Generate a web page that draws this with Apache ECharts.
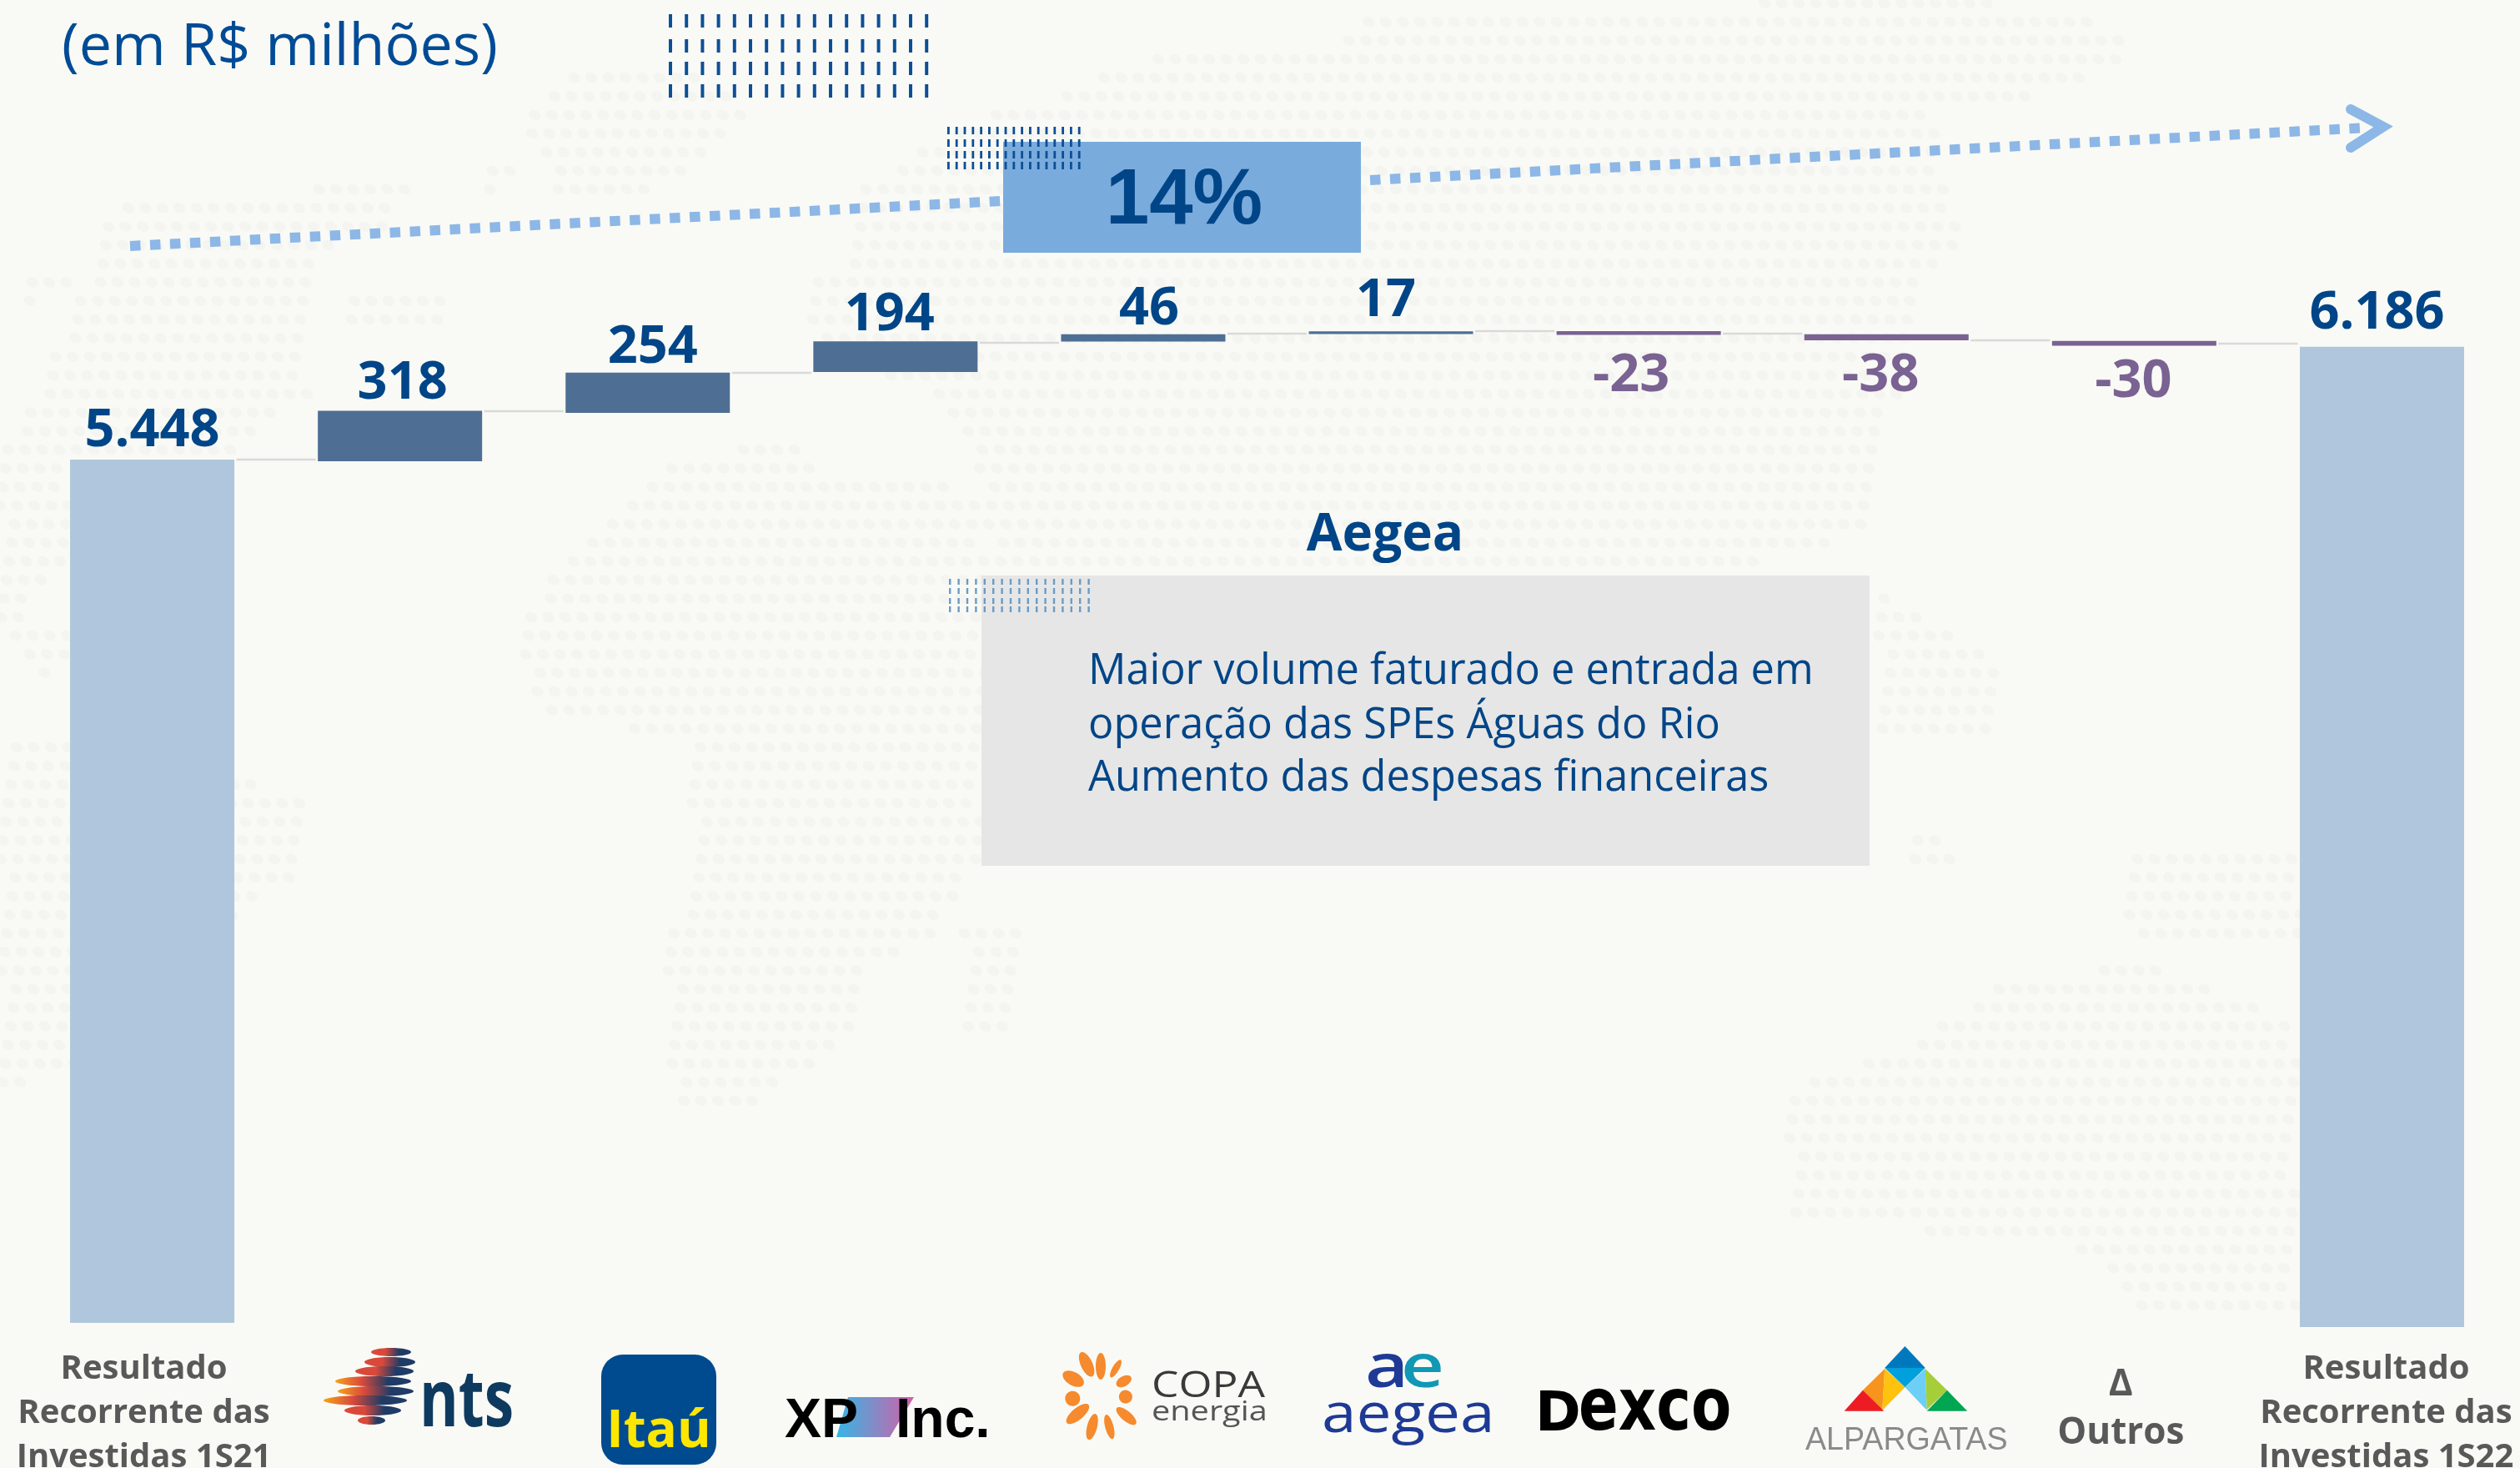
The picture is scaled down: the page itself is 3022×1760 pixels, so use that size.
<!DOCTYPE html>
<html>
<head>
<meta charset="utf-8">
<title>Resultado Recorrente das Investidas</title>
<script src="https://cdn.jsdelivr.net/npm/echarts@6/dist/echarts.min.js"></script>
<style>
    html, body { margin: 0; padding: 0; background: #f9faf5; }
    #chart { width: 3022px; height: 1760px; }
</style>
</head>
<body>
<div id="chart"></div>
<script>
var categories = [
    'Resultado\nRecorrente das\nInvestidas 1S21', 'NTS', 'Itaú', 'XP Inc.', 'Copa Energia',
    'Aegea', 'Dexco', 'Alpargatas', 'Δ\nOutros', 'Resultado\nRecorrente das\nInvestidas 1S22'
];
var values = [5448, 318, 254, 194, 46, 17, -23, -38, -30, 6186];
// where each floating bar starts
var barBase = [26, 5463, 5768, 6026, 6218, 6266, 6261, 6226, 6192, 0];
// level of the thin connector between one bar and the next
var connectorLevels = [5474, 5779, 6021, 6211, 6268, 6284, 6268, 6226, 6205];

var BLUE = '#004587', PURPLE = '#7a6292', GREY = '#595959', SANS = '"Open Sans"';

function fmt(v) {
    return String(v).replace(/\B(?=(\d{3})+$)/g, '.');
}

function barColor(i) {
    if (i === 0 || i === values.length - 1) return '#b0c6dd';
    return values[i] < 0 ? PURPLE : '#4f6e94';
}

// label nudges so the numbers sit where they do in the slide
var labelOffset = [[0, 4], [3, 5], [6, 8], [-7, 6], [7, 8], [-6, 1], [-9, 12], [-7, 5], [-1, 6], [-6, -2]];

function txt(s, x, base, size, weight, fill, family, align, sx) {
    return {
        type: 'text', x: x, y: base - 0.28 * size, z: 3, silent: true, scaleX: sx || 1,
        style: {
            text: s, fill: fill, fontFamily: family || SANS, fontSize: size, fontWeight: weight,
            align: align || 'left', verticalAlign: 'middle'
        }
    };
}

function poly(pts, fill, z) {
    return { type: 'polygon', z: z || 3, silent: true, shape: { points: pts }, style: { fill: fill } };
}

function gradH(a, b) {
    return { type: 'linear', x: 0, y: 0, x2: 1, y2: 0, colorStops: [{ offset: 0, color: a }, { offset: 1, color: b }] };
}

// faint dotted world map behind everything
var mapShapes = [
    [[135,246],[501,217],[453,279],[371,308],[371,472],[289,540],[87,540],[19,520],[67,424],[106,328]],
    [[20,345],[80,320],[80,350],[20,370]],
    [[405,357],[549,347],[540,395],[400,395]],
    [[569,183],[617,202],[593,236],[578,236]],
    [[0,520],[85,520],[85,655],[29,742],[0,742]],
    [[10,740],[85,740],[85,800],[40,820]],
    [[0,896],[87,887],[366,954],[357,1050],[289,1089],[87,1291],[0,1301]],
    [[626,145],[675,87],[809,77],[906,125],[848,183],[800,222],[694,250],[665,231]],
    [[800,559],[954,520],[993,569],[1176,588],[1185,694],[1176,1041],[1147,1060],[1127,1127],[1041,1156],[1021,1234],[983,1272],[925,1311],[896,1330],[809,1320],[800,1253],[800,1118],[819,1089],[838,1041],[819,935],[838,896],[636,848],[626,752],[675,675],[771,578]],
    [[964,347],[1021,308],[1021,231],[1156,145],[1253,125],[1378,67],[1569,67],[1655,11],[2378,0],[2503,22],[2561,45],[2542,79],[2475,112],[2311,129],[2349,264],[2349,297],[2292,359],[2292,426],[2243,561],[2253,640],[2108,673],[1839,685],[1185,685],[1185,588],[1127,482],[964,400]],
    [[2142,1302],[2282,1257],[2407,1178],[2571,1156],[2754,1223],[2754,1571],[2571,1571],[2484,1493],[2234,1470],[2147,1459]],
    [[2552,1010],[2760,1010],[2760,1122],[2552,1122]],
    [[2282,988],[2340,988],[2340,1044],[2282,1044]],
    [[2253,707],[2400,790],[2400,875],[2253,875]],
    [[1156,1108],[1240,1108],[1200,1240],[1146,1240]]
];

function inside(p, shape) {
    var hit = false;
    for (var i = 0, j = shape.length - 1; i < shape.length; j = i++) {
        if ((shape[i][1] > p[1]) !== (shape[j][1] > p[1]) &&
            p[0] < (shape[j][0] - shape[i][0]) * (p[1] - shape[i][1]) / (shape[j][1] - shape[i][1]) + shape[i][0]) {
            hit = !hit;
        }
    }
    return hit;
}

function mapDots() {
    var dots = [];
    for (var r = 0; r < 72; r++) {
        for (var c = -15; c < 150; c++) {
            var p = [c * 20.5 - r * 3.2 + 230, r * 22.3 + 4];
            for (var s = 0; s < mapShapes.length; s++) {
                if (inside(p, mapShapes[s])) {
                    dots.push({
                        type: 'ellipse', x: p[0], y: p[1], rotation: -0.5, silent: true, z: -5,
                        shape: { cx: 0, cy: 0, rx: 7.5, ry: 6 },
                        style: { fill: '#f4f5f1' }
                    });
                    break;
                }
            }
        }
    }
    return dots;
}

function stipple(x0, step, w, rows, h, color, z) {
    var out = [];
    for (var c = 0; c < 17; c++) {
        for (var r = 0; r < rows.length; r++) {
            out.push({
                type: 'rect', z: z, silent: true,
                shape: { x: x0 + c * step, y: rows[r], width: w, height: h },
                style: { fill: color }
            });
        }
    }
    return out;
}

function dashed(x1, y1, x2, y2) {
    return {
        type: 'line', z: 1, silent: true, shape: { x1: x1, y1: y1, x2: x2, y2: y2 },
        style: { stroke: '#8db7e6', lineWidth: 12, lineDash: [12.5, 11.5] }
    };
}

function ntsLogo() {
    var rows = [[445,493,1621],[437,498,1633],[426,496,1644],[402,493,1656],[405,496,1668],[388,488,1679],[413,481,1691],[429,462,1703]];
    var out = [];
    rows.forEach(function (r, i) {
        out.push({
            type: 'ellipse', z: 3, silent: true,
            shape: { cx: (r[0] + r[1]) / 2, cy: r[2], rx: (r[1] - r[0]) / 2, ry: i % 7 === 0 ? 5 : 6 },
            style: {
                fill: {
                    type: 'linear', x: 0, y: 0, x2: 1, y2: 0,
                    colorStops: [{ offset: 0, color: i > 2 && i < 6 ? '#f7a11a' : '#d9493a' }, { offset: 0.35, color: '#d9493a' }, { offset: 0.7, color: '#1f3b66' }, { offset: 1, color: '#1f3b66' }]
                }
            }
        });
    });
    out.push(txt('nts', 503, 1710, 95, 700, '#0e3a5f', SANS, 'left', 0.75));
    return out;
}

function copaLogo() {
    var out = [];
    var petals = [[0,34,6,16],[30,36,4,12],[60,32,6,10],[95,30,8,8],[130,40,6,15],[165,40,5,15],[195,40,6,16],[230,36,7,17],[262,34,9,9],[300,38,8,14],[335,40,7,16]];
    petals.forEach(function (p) {
        var a = p[0] * Math.PI / 180;
        out.push({
            type: 'ellipse', z: 3, silent: true, x: 1320 + p[1] * Math.sin(a), y: 1672 - p[1] * Math.cos(a), rotation: -a,
            shape: { cx: 0, cy: 0, rx: p[2], ry: p[3] },
            style: { fill: '#f58a2e' }
        });
    });
    out.push(txt('COPA', 1381, 1675, 44, 400, '#3a3a3a', SANS, 'left', 1.17));
    out.push(txt('energia', 1381, 1703, 32, 400, '#555555', SANS, 'left', 1.24));
    return out;
}

function alpargatasLogo() {
    function pts(list) {
        return list.map(function (q) { return [1500 + q[0] / 1.03, 1560 + q[1] / 3]; });
    }
    return [
        poly(pts([[808,162],[783,240],[833,240]]), '#0078be'),
        poly(pts([[783,240],[833,240],[808,310]]), '#00a0dc'),
        poly(pts([[783,243],[756,320],[780,395]]), '#f7941d'),
        poly(pts([[783,243],[808,310],[780,392]]), '#ffc20e'),
        poly(pts([[756,320],[733,395],[782,395]]), '#ed1c24'),
        poly(pts([[808,310],[833,243],[835,392]]), '#6dcff6'),
        poly(pts([[833,243],[860,320],[835,390]]), '#a6ce39'),
        poly(pts([[860,320],[885,395],[835,395]]), '#00a651'),
        txt('ALPARGATAS', 2165, 1738, 38, 400, '#8a8a8a', 'Liberation Sans', 'left', 0.99)
    ];
}

var decorations = mapDots().concat(
    [
        dashed(156, 295, 1201, 241),
        dashed(1643, 216, 2840, 153),
        {
            type: 'polyline', z: 1, silent: true,
            shape: { points: [[2819, 131], [2858, 152], [2819, 177]] },
            style: { stroke: '#8db7e6', lineWidth: 12, fill: null, lineCap: 'round' }
        },
        { type: 'rect', z: 1, silent: true, shape: { x: 1203, y: 170, width: 429, height: 133 }, style: { fill: '#7aabdd' } },
        { type: 'rect', z: 1, silent: true, shape: { x: 1177, y: 690, width: 1065, height: 348 }, style: { fill: '#e6e6e6' } }
    ],
    stipple(802, 19.2, 4, [17, 47, 74, 101], 16, '#0d4f96', 2),
    stipple(1136, 9.8, 2.8, [152, 167, 181, 194], 9, '#0d4f96', 2),
    stipple(1138, 10.4, 2.4, [694, 705, 717, 727], 7, '#6a9cc5', 2),
    [
        txt('(em R$ milhões)', 74, 78, 70, 400, '#004b96'),
        txt('14%', 1420, 268, 94, 700, BLUE, 'Liberation Sans', 'center'),
        txt('Aegea', 1661, 660, 62, 700, BLUE, SANS, 'center'),
        txt('Maior volume faturado e entrada em', 1305, 820, 50.5, 400, BLUE),
        txt('operação das SPEs Águas do Rio', 1305, 885, 50.5, 400, BLUE),
        txt('Aumento das despesas financeiras', 1305, 948, 50.5, 400, BLUE)
    ],
    ntsLogo(),
    [
        { type: 'rect', z: 3, silent: true, shape: { x: 721, y: 1624, width: 138, height: 132, r: 26 }, style: { fill: '#004a8f' } },
        txt('Itaú', 790, 1735, 62, 700, '#ffe600', SANS, 'center'),
        poly([[1017, 1675], [1096, 1675], [1067, 1723], [1003, 1723]], gradH('#36b5e5', '#d45fa8')),
        txt('XP', 941, 1723, 66, 700, '#000000', 'Liberation Sans', 'left', 1),
        txt('Inc.', 1074, 1723, 66, 700, '#000000', 'Liberation Sans')
    ],
    copaLogo(),
    [
        txt('a', 1637, 1663, 72, 600, '#1e3a96', SANS, 'left', 1.25),
        txt('e', 1680, 1663, 72, 600, '#1098b5', SANS, 'left', 1.25),
        txt('aegea', 1585, 1717, 65, 400, '#1e3a96', SANS, 'left', 1.15),
        txt('D', 1841, 1716, 66, 700, '#000000', 'DejaVu Sans'),
        txt('exco', 1893, 1716, 88, 700, '#000000', 'DejaVu Sans', 'left', 0.8)
    ],
    alpargatasLogo()
);

var chart = echarts.init(document.getElementById('chart'));

var option = {
    animation: false,
    backgroundColor: '#f9faf5',
    grid: { left: 34, top: 261, width: 2971, height: 1330, outerBoundsMode: 'none' },
    graphic: { elements: decorations },
    xAxis: {
        type: 'category',
        data: categories.map(function (c, i) {
            var item = { value: c, textStyle: {} };
            if (i === 0) item.textStyle.padding = [0, 20, 0, 0];
            if (i === 8) {
                item.textStyle.padding = [16, 32, 0, 0];
                item.textStyle.lineHeight = 58;
                item.textStyle.fontSize = 44;
            }
            if (i === 9) item.textStyle.padding = [0, 0, 0, 10];
            return item;
        }),
        axisLine: { show: false },
        axisTick: { show: false },
        axisLabel: {
            interval: 0,
            margin: 24,
            color: GREY,
            fontFamily: SANS,
            fontWeight: 700,
            fontSize: 40,
            lineHeight: 53,
            formatter: function (v) {
                return v.indexOf('Resultado') === 0 || v.indexOf('Outros') > 0 ? v : '';
            }
        }
    },
    yAxis: { type: 'value', min: 0, max: 7000, show: false },
    series: [
        {
            name: 'base',
            type: 'bar',
            stack: 'waterfall',
            barWidth: 197,
            silent: true,
            itemStyle: { color: 'transparent' },
            data: barBase
        },
        {
            name: 'Resultado',
            type: 'bar',
            stack: 'waterfall',
            barWidth: 197,
            silent: true,
            data: values.map(function (v, i) {
                return {
                    value: Math.abs(v),
                    itemStyle: { color: barColor(i) },
                    label: {
                        show: true,
                        position: v < 0 ? 'bottom' : 'top',
                        distance: 6,
                        offset: labelOffset[i],
                        color: v < 0 ? PURPLE : BLUE,
                        fontFamily: SANS,
                        fontWeight: 700,
                        fontSize: 63,
                        formatter: fmt(v)
                    }
                };
            })
        },
        {
            name: 'ligação',
            type: 'custom',
            silent: true,
            z: 1,
            data: connectorLevels.map(function (lvl, i) { return [i, lvl]; }),
            renderItem: function (params, api) {
                var from = api.coord([api.value(0), api.value(1)]);
                var to = api.coord([api.value(0) + 1, api.value(1)]);
                return {
                    type: 'line',
                    shape: { x1: from[0] + 101, y1: from[1], x2: to[0] - 101, y2: to[1] },
                    style: { stroke: '#d9d9d9', lineWidth: 2.5 }
                };
            }
        }
    ]
};

chart.setOption(option);
</script>
</body>
</html>
